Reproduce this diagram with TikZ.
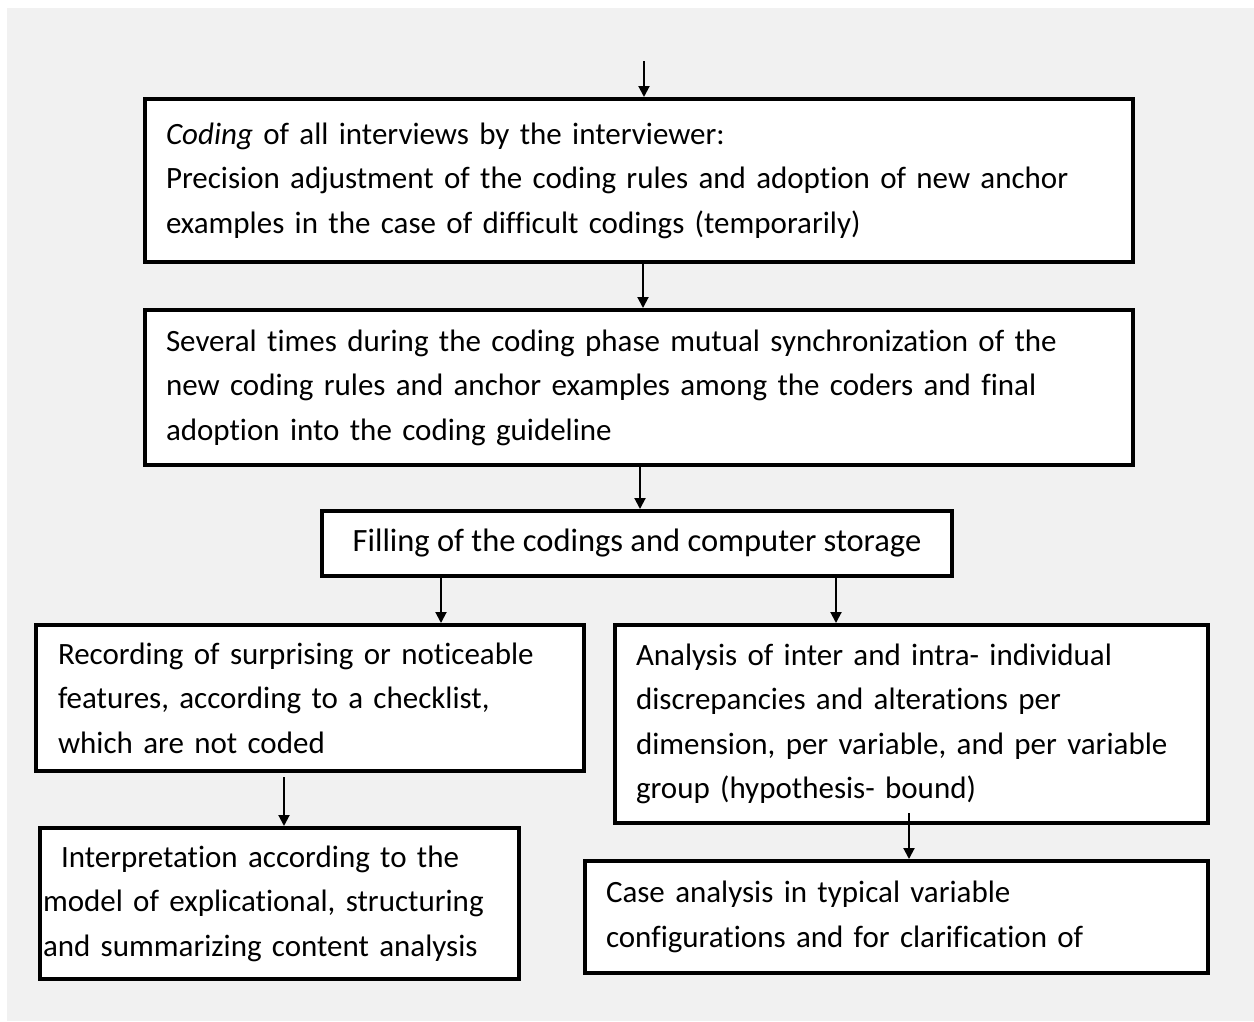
\documentclass[tikz,border=0pt]{standalone}
\usepackage{fontspec}
\setmainfont{Carlito}[Ligatures=NoCommon]
\usetikzlibrary{arrows.meta}
\definecolor{fondgris}{RGB}{241,241,241}
\begin{document}
\begin{tikzpicture}[x=1pt,y=-1pt,
    boite/.style={draw,line width=4pt,fill=white,anchor=north west,outer sep=0pt,
      inner ysep=0pt,align=left,font=\fontsize{31}{44.5}\selectfont},
    fleche/.style={line width=2pt,shorten >=2pt,-{Triangle[length=11pt,width=11pt]}}]
  \fill [white] (0,0) rectangle (1254,1021);
  \fill [fondgris] (7,8) rectangle (1254,1021);
  \node [boite,minimum width=988pt,minimum height=163pt,inner xsep=21pt,text width=946pt] (b1) at (145,99)
    {\textit{Coding} of all interviews by the interviewer:\\
     Precision adjustment of the coding rules and adoption of new anchor\\
     examples in the case of difficult codings (temporarily)};
  \node [boite,minimum width=988pt,minimum height=155pt,inner xsep=21pt,text width=946pt] (b2) at (145,310)
    {Several times during the coding phase mutual synchronization of the\\
     new coding rules and anchor examples among the coders and final\\
     adoption into the coding guideline};
  \node [boite,minimum width=630pt,minimum height=65pt,inner xsep=0pt,align=center,
    font=\fontsize{32.5}{44.5}\selectfont] (b3) at (322,511)
    {Filling of the codings and computer storage};
  \node [boite,minimum width=548pt,minimum height=146pt,inner xsep=22pt,text width=504pt] (b4) at (36,625)
    {Recording of surprising or noticeable\\
     features, according to a checklist,\\
     which are not coded};
  \node [boite,minimum width=593pt,minimum height=198pt,inner xsep=21pt,text width=551pt] (b5) at (615,625)
    {Analysis of inter and intra- individual\\
     discrepancies and alterations per\\
     dimension, per variable, and per variable\\
     group (hypothesis- bound)};
  \node [boite,minimum width=479pt,minimum height=151pt,inner xsep=3pt,text width=473pt] (b6) at (40,828)
    {\hspace*{18pt}Interpretation according to the\\
     model of explicational, structuring\\
     and summarizing content analysis};
  \node [boite,minimum width=623pt,minimum height=112pt,inner xsep=21pt,text width=581pt] (b7) at (585,861)
    {Case analysis in typical variable\\
     configurations and for clarification of};
  % fleches
  \coordinate (depart) at (644,61);
  \draw [fleche] (depart) -- (depart |- b1.north);
  \draw [fleche] (b1.south -| 643,0) -- (b2.north -| 643,0);
  \draw [fleche] (b2.south -| 640,0) -- (b3.north -| 640,0);
  \draw [fleche] (b3.south -| 441,0) -- (b4.north -| 441,0);
  \draw [fleche] (b3.south -| 836,0) -- (b5.north -| 836,0);
  \draw [fleche,shorten <=6pt] (b4.south -| 284,0) -- (b6.north -| 284,0);
  \draw [fleche,shorten <=-10pt] (b5.south -| 909,0) -- (b7.north -| 909,0);%part de l'interieur
\end{tikzpicture}
\end{document}
